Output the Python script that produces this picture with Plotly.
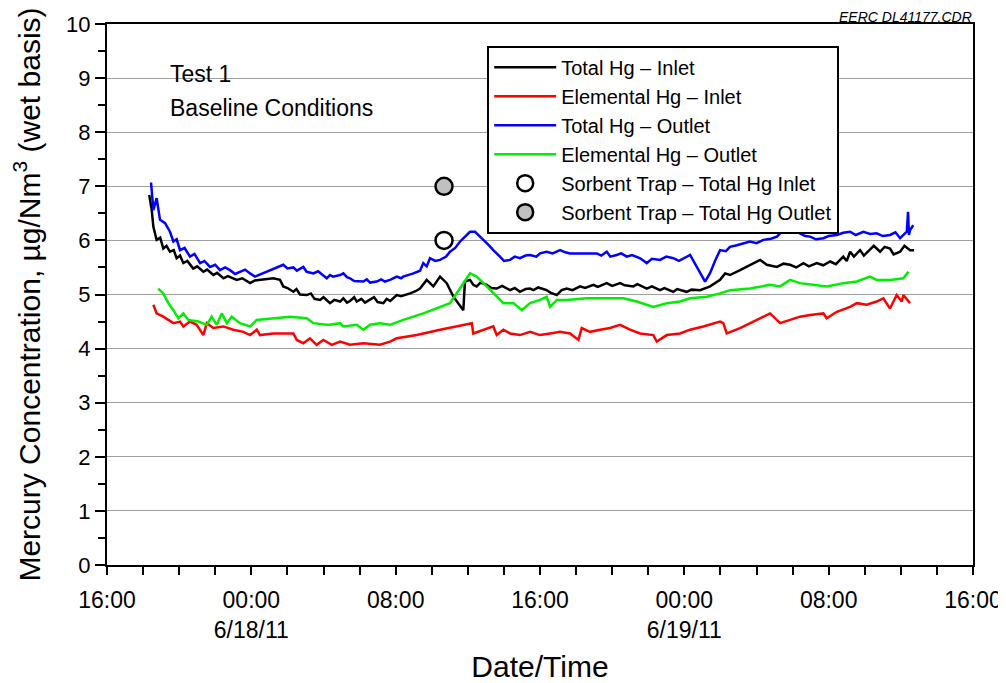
import pandas as pd
import plotly.graph_objects as go

# hours after 6/17/11 16:00, and concentration in ug/Nm3
start = pd.Timestamp("2011-06-17 16:00")

total_in_h = [2.34, 2.48, 2.57, 2.75, 2.95, 3.12, 3.30, 3.49, 3.70, 3.86, 4.05, 4.23, 4.45, 4.78, 5.00, 5.34,
              5.55, 5.89, 6.10, 6.45, 6.70, 7.19, 7.50, 7.93, 8.20, 8.48, 9.22, 9.59, 9.77, 10.00, 10.33, 10.50,
              10.70, 11.07, 11.30, 11.50, 11.81, 12.00, 12.36, 12.60, 12.92, 13.10, 13.30, 13.47, 13.70, 13.84,
              14.10, 14.30, 14.58, 14.80, 15.00, 15.32, 15.50, 15.70, 16.06, 16.30, 16.80, 17.10, 17.35, 17.72,
              18.09, 18.46, 18.83, 19.20, 19.75, 19.84, 20.12, 20.30, 20.49, 20.70, 21.05, 21.30, 21.60, 21.90,
              22.34, 22.60, 22.89, 23.20, 23.45, 23.64, 23.90, 24.37, 24.60, 24.93, 25.20, 25.48, 25.80, 26.22,
              26.50, 26.96, 27.20, 27.70, 28.00, 28.44, 28.70, 29.17, 29.40, 29.92, 30.20, 30.65, 30.90, 31.39,
              31.60, 32.13, 32.40, 32.87, 33.43, 33.98, 34.26, 34.53, 35.09, 35.64, 36.20, 36.57, 37.13, 37.50,
              37.86, 38.20, 38.60, 38.90, 39.34, 39.70, 40.08, 40.40, 40.81, 41.00, 41.19, 41.40, 41.74, 41.95,
              42.29, 42.50, 42.85, 43.10, 43.40, 43.60, 43.96, 44.20, 44.51, 44.73]
total_in = [6.84, 6.56, 6.25, 6.01, 6.05, 5.85, 5.90, 5.79, 5.82, 5.67, 5.72, 5.58, 5.62, 5.48, 5.52, 5.42,
            5.46, 5.36, 5.40, 5.30, 5.34, 5.27, 5.30, 5.21, 5.26, 5.27, 5.30, 5.27, 5.15, 5.12, 5.05, 5.10,
            5.00, 4.99, 5.02, 4.92, 4.90, 4.95, 4.84, 4.90, 4.87, 4.93, 4.85, 4.88, 4.95, 4.87,
            4.92, 4.85, 4.90, 4.95, 4.86, 4.84, 4.92, 4.88, 4.99, 4.97, 5.02, 5.06, 5.11, 5.27,
            5.15, 5.33, 5.21, 4.96, 4.71, 5.24, 5.27, 5.18, 5.15, 5.22, 5.18, 5.12, 5.11, 5.16,
            5.08, 5.12, 5.05, 5.10, 5.11, 5.08, 5.13, 5.08, 5.03, 4.99, 5.08, 5.11, 5.08, 5.15,
            5.12, 5.18, 5.14, 5.21, 5.16, 5.21, 5.17, 5.15, 5.19, 5.11, 5.15, 5.08, 5.12, 5.05,
            5.10, 5.05, 5.09, 5.08, 5.15, 5.27, 5.39, 5.36, 5.45, 5.55, 5.64, 5.55, 5.51, 5.57,
            5.55, 5.50, 5.58, 5.52, 5.58, 5.54, 5.61, 5.56, 5.70, 5.62, 5.79, 5.70, 5.82, 5.72,
            5.82, 5.90, 5.79, 5.88, 5.85, 5.74, 5.79, 5.90, 5.82, 5.82]

elem_in_h = [2.57, 2.75, 3.12, 3.68, 4.05, 4.23, 4.60, 4.97, 5.34, 5.53, 5.89, 6.45, 7.00, 7.56, 7.93, 8.30,
             8.48, 9.22, 10.33, 10.52, 10.88, 11.25, 11.62, 11.99, 12.46, 12.92, 13.47, 14.21, 15.13, 15.69,
             16.06, 17.17, 18.46, 19.75, 20.22, 20.30, 20.86, 21.41, 21.60, 21.97, 22.34, 22.89, 23.45, 24.00,
             24.56, 25.11, 25.67, 26.13, 26.31, 26.77, 27.33, 27.88, 28.44, 28.99, 29.55, 30.28, 30.47, 31.03,
             31.76, 32.32, 33.05, 33.98, 34.16, 34.35, 35.09, 35.83, 36.75, 37.31, 37.86, 38.41, 38.97, 39.71,
             39.89, 40.45, 41.19, 41.56, 42.11, 42.66, 43.03, 43.40, 43.77, 44.05, 44.14, 44.51]
elem_in = [4.81, 4.65, 4.59, 4.47, 4.50, 4.41, 4.50, 4.44, 4.25, 4.47, 4.38, 4.41, 4.35, 4.31, 4.25, 4.35,
           4.25, 4.28, 4.28, 4.16, 4.10, 4.19, 4.07, 4.16, 4.07, 4.13, 4.07, 4.10, 4.07, 4.13,
           4.19, 4.25, 4.35, 4.44, 4.47, 4.28, 4.35, 4.41, 4.25, 4.35, 4.28, 4.25, 4.31, 4.25,
           4.28, 4.31, 4.28, 4.16, 4.38, 4.31, 4.35, 4.38, 4.44, 4.35, 4.28, 4.25, 4.13, 4.25,
           4.28, 4.35, 4.41, 4.50, 4.47, 4.28, 4.38, 4.50, 4.65, 4.47, 4.53, 4.59, 4.62, 4.65,
           4.56, 4.68, 4.77, 4.84, 4.81, 4.87, 4.93, 4.74, 4.99, 4.87, 4.99, 4.84]

total_out_h = [2.44, 2.57, 2.75, 2.94, 3.22, 3.49, 3.68, 3.86, 4.05, 4.30, 4.60, 4.85, 5.16, 5.40, 5.71, 6.00,
               6.26, 6.55, 6.82, 7.10, 7.37, 7.65, 7.93, 8.20, 9.77, 10.00, 10.33, 10.52, 10.88, 11.07, 11.44,
               11.70, 12.18, 12.36, 12.53, 12.92, 13.10, 13.30, 13.47, 13.70, 14.21, 14.40, 14.58, 14.95, 15.20,
               15.40, 15.69, 16.06, 16.30, 16.42, 16.98, 17.35, 17.53, 17.72, 17.90, 18.20, 18.46, 18.80, 19.01,
               19.30, 19.57, 19.85, 20.12, 20.40, 20.60, 20.86, 21.20, 21.41, 21.78, 22.00, 22.34, 22.60, 22.89,
               23.20, 23.45, 23.80, 24.00, 24.37, 24.70, 25.11, 25.40, 25.67, 27.15, 27.40, 27.70, 27.90, 28.25,
               28.50, 28.81, 29.10, 29.55, 29.92, 30.20, 30.65, 31.00, 31.39, 31.70, 31.95, 32.32, 33.15, 33.43,
               33.70, 33.98, 34.30, 34.53, 34.91, 35.30, 35.64, 36.00, 36.38, 36.80, 37.13, 37.31, 37.68, 38.04,
               38.41, 38.70, 38.97, 39.30, 39.71, 40.00, 40.45, 40.81, 41.19, 41.50, 41.92, 42.30, 42.66, 43.00,
               43.40, 43.70, 43.96, 44.20, 44.33, 44.40, 44.45, 44.51, 44.69]
total_out = [7.07, 6.56, 6.78, 6.38, 6.32, 6.16, 5.98, 6.02, 5.82, 5.86, 5.70, 5.75, 5.58, 5.62, 5.51, 5.55,
             5.45, 5.50, 5.45, 5.38, 5.42, 5.46, 5.39, 5.33, 5.55, 5.48, 5.50, 5.44, 5.51, 5.42, 5.39,
             5.43, 5.30, 5.36, 5.33, 5.36, 5.39, 5.32, 5.30, 5.25, 5.24, 5.28, 5.22, 5.24, 5.28,
             5.24, 5.27, 5.33, 5.30, 5.33, 5.39, 5.44, 5.58, 5.52, 5.67, 5.62, 5.64, 5.70, 5.79,
             5.86, 5.98, 6.08, 6.16, 6.16, 6.10, 6.01, 5.90, 5.82, 5.70, 5.62, 5.64, 5.70, 5.67,
             5.72, 5.73, 5.70, 5.76, 5.79, 5.76, 5.82, 5.78, 5.76, 5.76, 5.72, 5.79, 5.70, 5.73,
             5.76, 5.70, 5.73, 5.67, 5.58, 5.66, 5.64, 5.70, 5.67, 5.62, 5.67, 5.73, 5.24, 5.40,
             5.62, 5.82, 5.80, 5.88, 5.91, 5.94, 5.98, 5.95, 6.01, 6.03, 6.07, 6.13, 6.25, 6.22,
             6.13, 6.08, 6.07, 6.02, 6.04, 6.08, 6.10, 6.14, 6.16, 6.10, 6.16, 6.12, 6.13, 6.08,
             6.10, 6.15, 6.04, 6.12, 6.16, 6.53, 6.10, 6.19, 6.28]

elem_out_h = [2.84, 3.12, 3.40, 3.68, 3.95, 4.23, 4.51, 5.06, 5.53, 5.80, 6.08, 6.36, 6.64, 6.91, 7.37, 7.93,
              8.30, 9.22, 10.14, 11.07, 11.44, 12.18, 12.36, 12.92, 13.10, 13.84, 14.21, 14.58, 15.13, 15.69,
              16.42, 17.53, 19.01, 20.12, 20.49, 21.05, 21.60, 21.97, 22.53, 22.99, 23.45, 24.00, 24.37, 24.56,
              24.93, 25.48, 26.59, 27.70, 28.62, 29.36, 30.28, 31.03, 31.76, 32.32, 33.24, 33.98, 34.53, 35.64,
              36.75, 37.31, 37.86, 38.41, 39.15, 39.89, 40.81, 41.56, 42.29, 42.66, 43.40, 44.14, 44.42]
elem_out = [5.11, 5.02, 4.84, 4.71, 4.56, 4.65, 4.53, 4.50, 4.44, 4.59, 4.44, 4.65, 4.47, 4.59, 4.47, 4.41,
            4.53, 4.56, 4.59, 4.56, 4.47, 4.44, 4.44, 4.47, 4.41, 4.44, 4.35, 4.44, 4.47, 4.44,
            4.53, 4.65, 4.84, 5.39, 5.33, 5.15, 4.96, 4.84, 4.84, 4.71, 4.84, 4.90, 4.96, 4.77,
            4.90, 4.90, 4.93, 4.93, 4.93, 4.87, 4.77, 4.84, 4.87, 4.93, 4.96, 5.02, 5.08, 5.11,
            5.18, 5.15, 5.27, 5.21, 5.18, 5.15, 5.21, 5.24, 5.33, 5.27, 5.27, 5.30, 5.42]

trap_h = [18.68]
trap_in = [6.0]
trap_out = [7.0]

x_ticks_h = [0, 8, 16, 24, 32, 40, 48]
x_tick_text = ["16:00", "00:00<br>6/18/11", "08:00", "16:00", "00:00<br>6/19/11", "08:00", "16:00"]


def to_time(hours):
    return start + pd.to_timedelta(hours, unit="h")


font = "Liberation Sans, Arial, sans-serif"
fig = go.Figure()

for name, hrs, vals, col in [
    ("Total Hg \u2013 Inlet", total_in_h, total_in, "#000000"),
    ("Elemental Hg \u2013 Inlet", elem_in_h, elem_in, "#ff0000"),
    ("Total Hg \u2013 Outlet", total_out_h, total_out, "#0000ff"),
    ("Elemental Hg \u2013 Outlet", elem_out_h, elem_out, "#00ee00"),
]:
    fig.add_trace(go.Scatter(x=to_time(hrs), y=vals, mode="lines", name=name,
                             line=dict(color=col, width=2.5)))

fig.add_trace(go.Scatter(x=to_time(trap_h), y=trap_in, mode="markers",
                         name="Sorbent Trap \u2013 Total Hg Inlet",
                         marker=dict(size=17, color="white", line=dict(color="black", width=2.5))))
fig.add_trace(go.Scatter(x=to_time(trap_h), y=trap_out, mode="markers",
                         name="Sorbent Trap \u2013 Total Hg Outlet",
                         marker=dict(size=17, color="#c0c0c0", line=dict(color="black", width=2.5))))

# page body has an 8px margin, so the figure is 8px smaller each way
fig.update_layout(
    width=998, height=675,
    margin=dict(l=99, r=33, t=16, b=118),
    plot_bgcolor="white", paper_bgcolor="white",
    font=dict(family=font, color="black", size=21),
    showlegend=True,
    legend=dict(x=0.439, y=0.96, xanchor="left", yanchor="top",
                bordercolor="black", borderwidth=2, bgcolor="white",
                font=dict(size=20), itemwidth=62, tracegroupgap=0),
    xaxis=dict(
        range=[to_time(0), to_time(48)], automargin=False,
        tickvals=to_time(x_ticks_h), ticktext=x_tick_text,
        ticks="outside", ticklen=8, tickwidth=2, tickcolor="black",
        minor=dict(dtick=2 * 3600 * 1000, ticks="outside", ticklen=8, tickwidth=2, tickcolor="black"),
        showgrid=False, showline=True, linecolor="black", linewidth=2, mirror=True,
        tickfont=dict(size=23), ticklabelstandoff=5,
        title=dict(text="Date/Time", font=dict(size=30), standoff=14),
    ),
    yaxis=dict(
        range=[0, 10], dtick=1, automargin=False,
        ticks="outside", ticklen=10, tickwidth=2, tickcolor="black",
        minor=dict(dtick=0.5, ticks="outside", ticklen=7, tickwidth=2, tickcolor="black", showgrid=False),
        showgrid=True, gridcolor="#a0a0a0", gridwidth=1,
        showline=True, linecolor="black", linewidth=2, mirror=True,
        zeroline=False,
        tickfont=dict(size=22),
        title=dict(text="Mercury Concentration, \u00b5g/Nm<sup>3</sup> (wet basis)", font=dict(size=30), standoff=18),
    ),
    annotations=[
        dict(text="Test 1", xref="paper", yref="paper", x=0.07, y=0.9076,
             xanchor="left", yanchor="middle", showarrow=False, font=dict(size=23)),
        dict(text="Baseline Conditions", xref="paper", yref="paper", x=0.07, y=0.845,
             xanchor="left", yanchor="middle", showarrow=False, font=dict(size=23)),
        dict(text="<i>EERC DL41177.CDR</i>", xref="paper", yref="paper", x=1.0, y=1.0296,
             xanchor="right", yanchor="top", showarrow=False, borderpad=0, font=dict(size=14)),
    ],
)

fig.write_html("out.html")
